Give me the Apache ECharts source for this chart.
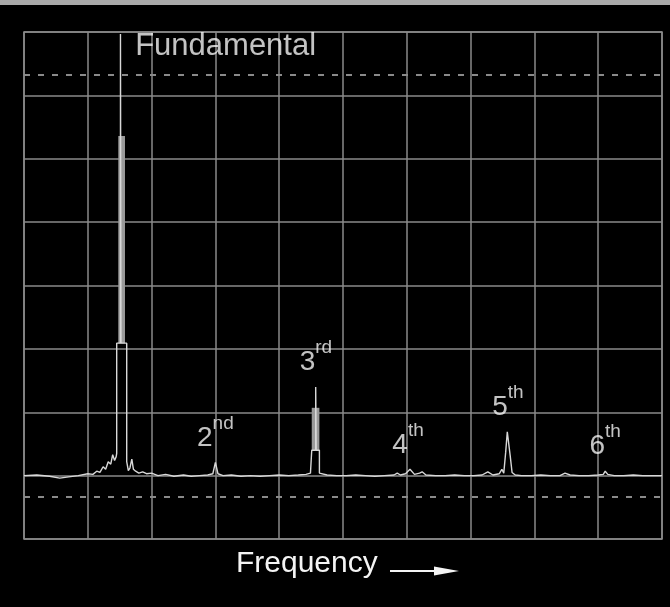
<!DOCTYPE html>
<html><head><meta charset="utf-8">
<script src="https://cdn.jsdelivr.net/npm/echarts@6/dist/echarts.min.js"></script>
<style>html,body{margin:0;padding:0;background:#000}#c{width:670px;height:607px}</style>
</head><body><div id="c"></div>
<script>
// Screen divisions (spectrum analyser graticule)
const xDivisions = 10;
const yDivisions = 8;

// Trace: [frequency (div), level (div)]
const trace = [
 [0.00,1.00],[0.20,1.01],[0.40,0.99],[0.56,0.96],[0.70,0.98],[0.85,1.00],[1.00,1.03],[1.08,1.02],
 [1.14,1.07],[1.19,1.05],[1.24,1.14],[1.28,1.10],[1.32,1.22],[1.36,1.18],[1.39,1.33],[1.42,1.24],
 [1.445,1.30],[1.453,1.35],[1.453,3.09],[1.512,3.09],[1.512,7.97],[1.52,7.97],[1.52,3.09],[1.61,3.09],
 [1.61,1.22],[1.635,1.08],[1.66,1.12],[1.69,1.26],[1.715,1.10],[1.75,1.07],[1.80,1.04],[1.86,1.06],
 [1.92,1.03],[2.00,1.04],[2.10,1.00],[2.22,1.02],[2.35,0.99],[2.50,1.01],[2.62,0.99],[2.75,1.00],
 [2.88,1.01],[2.96,1.03],[3.00,1.21],[3.04,1.03],[3.12,1.00],[3.25,1.01],[3.40,0.99],[3.55,1.00],
 [3.70,0.99],[3.85,1.00],[4.00,1.01],[4.15,1.00],[4.30,1.01],[4.42,1.02],[4.49,1.04],[4.51,1.05],
 [4.51,1.40],[4.572,1.40],[4.572,2.40],[4.58,2.40],[4.58,1.40],[4.63,1.40],[4.63,1.04],[4.66,1.02],
 [4.75,1.01],[4.90,1.00],[5.05,1.00],[5.20,1.01],[5.35,1.00],[5.50,0.99],[5.65,1.00],[5.80,1.01],
 [5.85,1.04],[5.90,1.01],[5.98,1.03],[6.05,1.10],[6.12,1.02],[6.20,1.04],[6.24,1.06],[6.30,1.01],
 [6.45,1.00],[6.60,1.00],[6.75,1.01],[6.90,1.00],[7.05,1.00],[7.18,1.01],[7.27,1.06],[7.35,1.01],
 [7.45,1.03],[7.49,1.10],[7.52,1.04],[7.55,1.37],[7.575,1.69],[7.595,1.69],[7.62,1.32],[7.65,1.05],
 [7.70,1.01],[7.80,1.00],[7.95,1.00],[8.10,1.01],[8.25,1.00],[8.40,1.00],[8.48,1.04],[8.56,1.01],
 [8.70,1.00],[8.85,1.00],[9.00,1.01],[9.08,1.02],[9.11,1.07],[9.15,1.02],[9.25,1.00],[9.40,1.00],
 [9.55,1.01],[9.70,1.00],[9.85,1.00],[10.0,1.00]
];

// Filled (sampled) bands of the two strongest peaks: [f0, level0, f1, level1]
const peakBands = [
 [1.478,3.09,1.583,6.36],
 [4.51,1.40,4.63,2.07]
];

// Harmonics
const harmonicFreq  = [1.515, 3.00, 4.576, 6.02, 7.585, 9.11];
const harmonicLevel = [7.97, 1.21, 2.40, 1.10, 1.69, 1.07];
const harmonicNames = ['Fundamental', '2', '3', '4', '5', '6'];
const harmonicSuffix = ['', 'nd', 'rd', 'th', 'th', 'th'];

// Dashed reference levels
const refLevels = [7.33, 0.66];

const axisTitle = 'Frequency';

const gridColor = '#8a8a8a';
const textColor = '#f4f4f4';
const FONT = '"Liberation Sans", Arial, sans-serif';

const chart = echarts.init(document.getElementById('c'), null, {renderer: 'canvas'});

const option = {
  backgroundColor: '#000',
  animation: false,
  grid: {left: 24, right: 8, top: 32, bottom: 68, show: true, borderColor: gridColor, borderWidth: 1.5, backgroundColor: 'transparent'},
  xAxis: {
    type: 'value', min: 0, max: xDivisions, interval: 1,
    axisLine: {show: false}, axisTick: {show: false}, axisLabel: {show: false},
    splitLine: {show: true, lineStyle: {color: gridColor, width: 1.5}}
  },
  yAxis: {
    type: 'value', min: 0, max: yDivisions, interval: 1,
    axisLine: {show: false}, axisTick: {show: false}, axisLabel: {show: false},
    splitLine: {show: true, lineStyle: {color: gridColor, width: 1.5}}
  },
  series: [
    {
      type: 'line', data: trace, showSymbol: false, symbol: 'none',
      lineStyle: {color: '#d8d8d8', width: 1.4}, z: 5,
      markLine: {
        silent: true, symbol: 'none', label: {show: false},
        lineStyle: {color: '#8a8a8a', type: [6, 8], width: 2},
        data: refLevels.map(v => ({yAxis: v}))
      },
      markArea: {
        silent: true, itemStyle: {color: '#9a9a9a'},
        data: peakBands.map(b => [{coord: [b[0], b[1]]}, {coord: [b[2], b[3]]}])
      }
    },
    {
      type: 'scatter', symbolSize: 1, itemStyle: {color: 'rgba(0,0,0,0)'}, z: 6,
      data: harmonicFreq.map((f, i) => {
        const item = {value: [f, harmonicLevel[i]]};
        if (i === 0) {
          item.label = {position: 'right', distance: 14, offset: [0, 13], fontSize: 31, lineHeight: 36, color: textColor};
        }
        return item;
      }),
      label: {
        show: true, position: 'top', distance: 0,
        color: textColor, fontFamily: FONT, fontSize: 28, lineHeight: 48,
        formatter: p => harmonicNames[p.dataIndex] + (harmonicSuffix[p.dataIndex] ? '{s|' + harmonicSuffix[p.dataIndex] + '}' : ''),
        rich: {s: {fontSize: 19, fontFamily: FONT, color: textColor, verticalAlign: 'top'}}
      }
    }
  ],
  graphic: [
    {type: 'rect', shape: {x: 0, y: 0, width: 670, height: 5}, style: {fill: '#a9a9a9'}},
    {type: 'text', x: 236, y: 564, style: {text: axisTitle, fill: textColor, fontSize: 30, fontFamily: FONT, verticalAlign: 'middle'}},
    {type: 'line', shape: {x1: 390, y1: 571, x2: 446, y2: 571}, style: {stroke: textColor, lineWidth: 2}},
    {type: 'polygon', shape: {points: [[434, 566.5], [459, 571], [434, 575.5]]}, style: {fill: textColor}}
  ]
};
chart.setOption(option);
</script>
</body></html>
